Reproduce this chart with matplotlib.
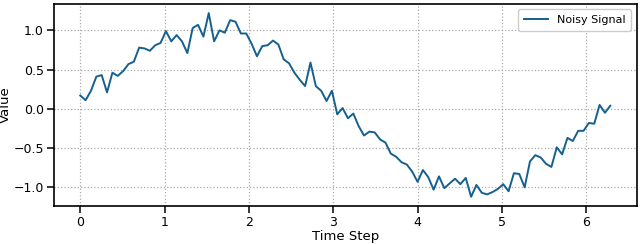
import numpy as np
import matplotlib
matplotlib.use("Agg")
import matplotlib.pyplot as plt

# 100 samples over one period
t = np.linspace(0, 2 * np.pi, 100)
signal = [
    0.17, 0.11, 0.23, 0.41, 0.43, 0.21, 0.46, 0.42, 0.48, 0.57,
    0.60, 0.78, 0.77, 0.74, 0.81, 0.84, 0.99, 0.86, 0.94, 0.86,
    0.71, 1.03, 1.07, 0.92, 1.22, 0.86, 1.00, 0.97, 1.13, 1.11,
    0.96, 0.96, 0.83, 0.67, 0.80, 0.81, 0.87, 0.82, 0.63, 0.58,
    0.46, 0.37, 0.29, 0.59, 0.29, 0.23, 0.10, 0.23, -0.07, 0.01,
    -0.12, -0.06, -0.22, -0.34, -0.29, -0.30, -0.39, -0.43, -0.57, -0.61,
    -0.68, -0.71, -0.80, -0.93, -0.78, -0.87, -1.03, -0.86, -1.01, -0.95,
    -0.89, -0.96, -0.88, -1.12, -0.97, -1.07, -1.09, -1.06, -1.02, -0.96,
    -1.05, -0.82, -0.83, -1.00, -0.67, -0.59, -0.62, -0.70, -0.74, -0.49,
    -0.58, -0.37, -0.41, -0.28, -0.28, -0.18, -0.19, 0.05, -0.05, 0.04,
]

fig = plt.figure(figsize=(6.4, 2.44), dpi=100)
ax = fig.add_subplot(111)
fig.subplots_adjust(left=0.084, right=0.995, top=0.984, bottom=0.156)

ax.plot(t, signal, color='#15608f', linewidth=1.4, label='Noisy Signal')

ax.set_xlabel('Time Step', fontsize=9.5, labelpad=1)
ax.set_ylabel('Value', fontsize=9.5)
ax.yaxis.set_label_coords(-0.071, 0.5)
ax.set_yticks([-1.0, -0.5, 0.0, 0.5, 1.0])
ax.tick_params(labelsize=9, length=5, width=1.1, pad=2)
for s in ax.spines.values():
    s.set_linewidth(1.2)
ax.grid(True, linestyle=':', color='#aaaaaa', linewidth=0.9)
ax.legend(loc='upper right', fontsize=8, framealpha=1, edgecolor='#cccccc',
          handlelength=2.2, borderpad=0.5)

fig.savefig('out.png', dpi=100)
